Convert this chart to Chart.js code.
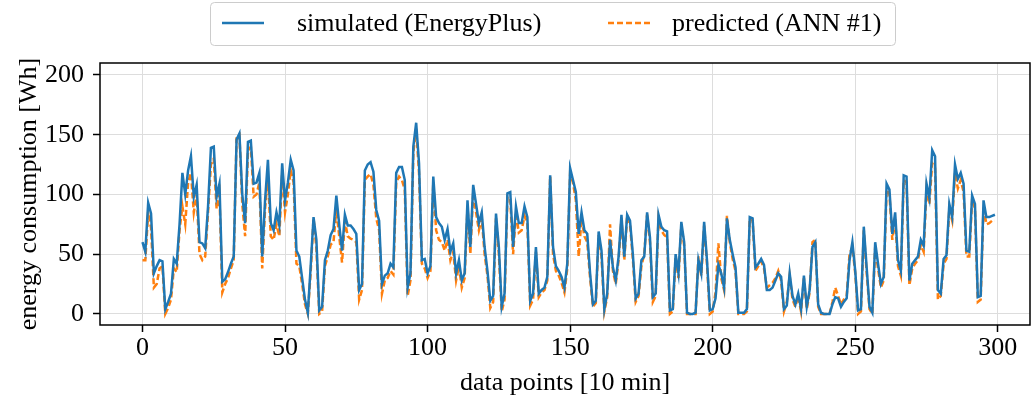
<!DOCTYPE html>
<html>
<head>
<meta charset="utf-8">
<script src="https://cdn.jsdelivr.net/npm/chart.js@4/dist/chart.umd.min.js"></script>
<style>
  html, body { margin: 0; padding: 0; background: #fff; }
  #chart { display: block; }
</style>
</head>
<body>
<canvas id="chart" width="1032" height="409"></canvas>
<script>
// values, one per 10 min step (0..299)
const simulated = [
  60, 52, 93, 84, 34, 40, 45, 44, 4, 10,
  17, 46, 42, 75, 118, 100, 120, 132, 98, 108,
  60, 59, 55, 90, 139, 140, 98, 109, 27, 29,
  35, 42, 48, 146, 151, 100, 76, 144, 145, 109,
  110, 118, 48, 95, 129, 76, 70, 85, 74, 126,
  95, 110, 129, 120, 53, 48, 30, 12, 1, 40,
  81, 62, 3, 6, 45, 53, 66, 71, 99, 75,
  53, 83, 74, 74, 71, 67, 20, 25, 120, 125,
  127, 119, 87, 78, 25, 32, 34, 42, 39, 118,
  123, 123, 112, 22, 34, 140, 160, 126, 45, 46,
  34, 40, 115, 81, 76, 73, 62, 71, 52, 59,
  34, 45, 28, 34, 95, 56, 108, 92, 76, 85,
  56, 36, 11, 15, 84, 56, 6, 17, 101, 102,
  56, 90, 76, 76, 90, 81, 11, 17, 56, 17,
  20, 22, 31, 116, 56, 40, 36, 31, 22, 42,
  122, 112, 102, 67, 85, 70, 67, 34, 8, 11,
  69, 53, 4, 17, 62, 39, 28, 48, 83, 48,
  83, 78, 50, 13, 17, 45, 48, 85, 64, 14,
  17, 83, 73, 70, 69, 3, 4, 50, 34, 77,
  60, 1, 0, 0, 1, 45, 34, 77, 45, 3,
  4, 13, 41, 34, 22, 80, 62, 50, 39, 1,
  1, 1, 4, 81, 80, 39, 42, 46, 41, 20,
  20, 22, 28, 34, 31, 4, 7, 34, 15, 8,
  17, 4, 32, 6, 20, 56, 60, 8, 1, 0,
  0, 0, 8, 14, 13, 6, 10, 13, 45, 60,
  36, 3, 4, 73, 39, 6, 1, 60, 42, 25,
  31, 109, 104, 67, 85, 45, 36, 116, 115, 28,
  42, 45, 48, 62, 57, 109, 97, 137, 132, 20,
  17, 46, 49, 92, 81, 125, 113, 118, 109, 53,
  52, 99, 92, 14, 15, 95, 81, 81, 82, 83
];

const predicted = [
  45, 45, 85, 72, 22, 25, 38, 40, 0, 5,
  12, 38, 35, 70, 90, 75, 110, 118, 85, 100,
  50, 45, 48, 85, 125, 130, 88, 100, 18, 25,
  30, 38, 45, 148, 150, 92, 65, 136, 140, 98,
  100, 110, 38, 88, 115, 65, 62, 75, 65, 118,
  85, 100, 120, 110, 42, 40, 25, 8, 0, 35,
  80, 55, 0, 2, 40, 48, 58, 60, 88, 65,
  43, 78, 65, 63, 62, 60, 12, 20, 112, 115,
  117, 108, 80, 70, 17, 28, 30, 36, 33, 110,
  115, 112, 104, 15, 28, 135, 155, 118, 42, 38,
  30, 36, 110, 70, 62, 60, 53, 62, 45, 52,
  28, 40, 22, 30, 90, 50, 102, 85, 70, 80,
  50, 32, 5, 10, 80, 50, 2, 12, 98, 96,
  50, 85, 68, 70, 82, 75, 7, 12, 52, 14,
  18, 20, 28, 115, 50, 36, 32, 26, 18, 38,
  118, 110, 95, 48, 80, 65, 60, 30, 6, 9,
  66, 48, 2, 14, 75, 36, 25, 45, 80, 45,
  82, 75, 46, 10, 15, 40, 50, 83, 60, 10,
  15, 80, 70, 66, 64, 0, 2, 48, 30, 75,
  57, 0, 0, 0, 0, 48, 32, 74, 42, 0,
  2, 18, 59, 30, 20, 82, 60, 46, 36, 0,
  0, 0, 2, 80, 78, 36, 40, 44, 38, 22,
  24, 26, 30, 36, 28, 2, 10, 32, 12, 6,
  15, 2, 30, 4, 18, 60, 62, 6, 0, 0,
  0, 0, 10, 22, 15, 8, 12, 15, 50, 56,
  34, 0, 2, 70, 35, 4, 0, 56, 38, 22,
  28, 104, 100, 62, 80, 40, 32, 112, 110, 24,
  38, 42, 45, 58, 52, 104, 92, 126, 122, 12,
  15, 42, 46, 88, 78, 118, 105, 112, 102, 48,
  48, 96, 88, 10, 12, 90, 75, 76, 78, 78
];

const xTicks = [0, 50, 100, 150, 200, 250, 300];
const yTicks = [0, 50, 100, 150, 200];

const seriesNames = ['simulated (EnergyPlus)', 'predicted (ANN #1)'];
const blue = '#1f77b4';
const orange = '#ff7f0e';
const serif = "'Liberation Serif', 'DejaVu Serif', serif";

function toPoints(values) {
  return values.map((v, i) => ({ x: i, y: v }));
}

// frame around the plot + boxed legend on top
const framePlugin = {
  id: 'frame',
  afterDraw(chart) {
    const ctx = chart.ctx;
    const a = chart.chartArea;
    ctx.save();
    ctx.strokeStyle = '#000';
    ctx.lineWidth = 1.5;
    ctx.strokeRect(a.left, a.top, a.right - a.left, a.bottom - a.top);

    // legend box
    const bx = 210, by = 2, bw = 685, bh = 43, r = 4;
    ctx.fillStyle = 'rgba(255,255,255,0.8)';
    ctx.strokeStyle = '#cccccc';
    ctx.lineWidth = 1;
    ctx.beginPath();
    ctx.roundRect(bx + 0.5, by + 0.5, bw, bh, r);
    ctx.fill();
    ctx.stroke();

    const cy = 23;
    ctx.lineWidth = 2.5;
    ctx.strokeStyle = blue;
    ctx.beginPath();
    ctx.moveTo(222, cy);
    ctx.lineTo(264, cy);
    ctx.stroke();

    ctx.strokeStyle = orange;
    ctx.setLineDash([6, 3]);
    ctx.beginPath();
    ctx.moveTo(608, cy);
    ctx.lineTo(650, cy);
    ctx.stroke();
    ctx.setLineDash([]);

    ctx.fillStyle = '#000';
    ctx.font = '26px ' + serif;
    ctx.textBaseline = 'middle';
    ctx.textAlign = 'left';
    ctx.fillText(seriesNames[0], 297, cy + 1);
    ctx.fillText(seriesNames[1], 672, cy + 1);
    ctx.restore();
  }
};

const ctx = document.getElementById('chart').getContext('2d');
const chart = new Chart(ctx, {
  type: 'line',
  data: {
    datasets: [
      {
        label: seriesNames[0],
        data: toPoints(simulated),
        borderColor: blue,
        borderWidth: 2.5,
        pointRadius: 0,
        tension: 0,
        fill: false
      },
      {
        label: seriesNames[1],
        data: toPoints(predicted),
        borderColor: orange,
        borderWidth: 2.5,
        borderDash: [6, 3],
        pointRadius: 0,
        tension: 0,
        fill: false
      }
    ]
  },
  options: {
    responsive: false,
    animation: false,
    layout: { padding: { left: 0, right: 2, top: 63, bottom: 0 } },
    plugins: {
      legend: { display: false },
      tooltip: { enabled: false }
    },
    scales: {
      x: {
        type: 'linear',
        min: -14.9,
        max: 311.3,
        afterBuildTicks: scale => { scale.ticks = xTicks.map(v => ({ value: v })); },
        afterFit: scale => { scale.height = 84; },
        border: { display: false },
        grid: { color: '#dddddd', lineWidth: 1, tickColor: '#000', tickLength: 7, tickWidth: 1.5 },
        ticks: { color: '#000', font: { family: serif, size: 26 }, padding: 1, maxRotation: 0 },
        title: {
          display: true,
          text: 'data points [10 min]',
          color: '#000',
          font: { family: serif, size: 26 },
          padding: { top: 0, bottom: 10 }
        }
      },
      y: {
        min: -9.3,
        max: 210,
        afterBuildTicks: scale => { scale.ticks = yTicks.map(v => ({ value: v })); },
        afterFit: scale => { scale.width = 100; },
        border: { display: false },
        grid: { color: '#dddddd', lineWidth: 1, tickColor: '#000', tickLength: 7, tickWidth: 1.5 },
        ticks: { color: '#000', font: { family: serif, size: 26 }, padding: 9 },
        title: {
          display: true,
          text: 'energy consumption [Wh]',
          color: '#000',
          font: { family: serif, size: 26 },
          padding: { top: 14, bottom: 0 }
        }
      }
    }
  },
  plugins: [framePlugin]
});
</script>
</body>
</html>
